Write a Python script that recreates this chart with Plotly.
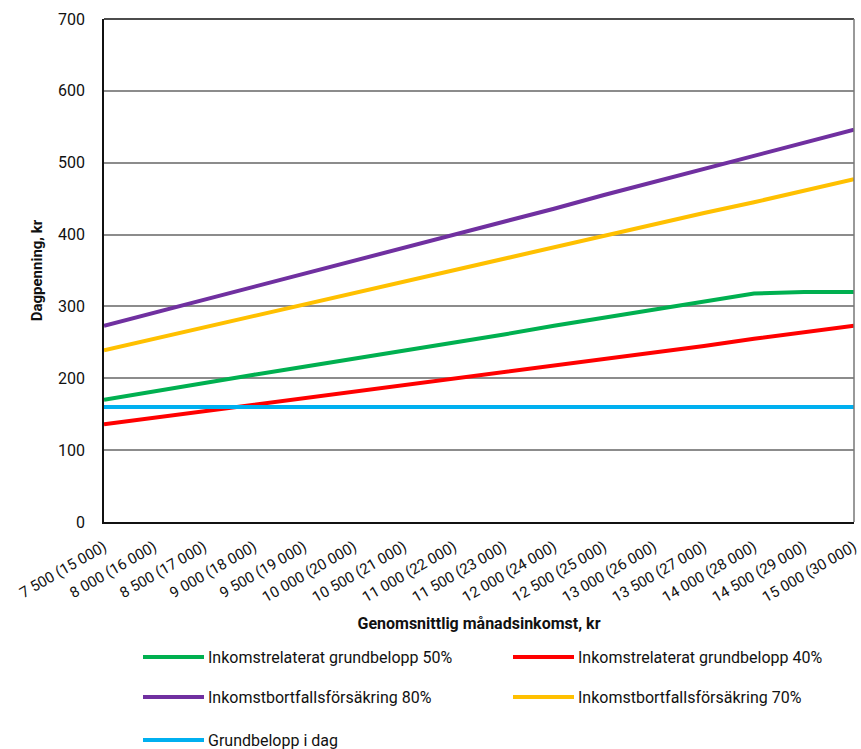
import plotly.graph_objects as go

# Monthly income categories (with corresponding figure in parentheses)
categories = [
    "7 500 (15 000)", "8 000 (16 000)", "8 500 (17 000)", "9 000 (18 000)",
    "9 500 (19 000)", "10 000 (20 000)", "10 500 (21 000)", "11 000 (22 000)",
    "11 500 (23 000)", "12 000 (24 000)", "12 500 (25 000)", "13 000 (26 000)",
    "13 500 (27 000)", "14 000 (28 000)", "14 500 (29 000)", "15 000 (30 000)",
]

grund_50 = [170, 182, 193, 205, 216, 227, 239, 250, 261, 273, 284, 295, 307, 318, 320, 320]
grund_40 = [136, 145, 155, 164, 173, 182, 191, 200, 209, 218, 227, 236, 245, 255, 264, 273]
bortfall_80 = [273, 291, 309, 327, 345, 364, 382, 400, 418, 436, 455, 473, 491, 509, 527, 546]
bortfall_70 = [239, 255, 270, 286, 302, 318, 334, 350, 366, 382, 398, 414, 430, 445, 461, 477]
grund_idag = [160] * 16

series_names = [
    "Inkomstrelaterat grundbelopp 50%",
    "Inkomstrelaterat grundbelopp 40%",
    "Inkomstbortfallsförsäkring 80%",
    "Inkomstbortfallsförsäkring 70%",
    "Grundbelopp i dag",
]
series_values = [grund_50, grund_40, bortfall_80, bortfall_70, grund_idag]
series_colors = ["#00B050", "#FF0000", "#7030A0", "#FFC000", "#00B0F0"]

y_ticks = [0, 100, 200, 300, 400, 500, 600, 700]

FONT = "Roboto, sans-serif"

W, H = 861, 749
ML, MR, MT, MB = 104, 7, 19, 227
PW, PH = W - ML - MR, H - MT - MB


def px_to_paper(xp, yp):
    """Convert figure pixel position to paper coordinates of the plot area."""
    return (xp - ML) / PW, (H - MB - yp) / PH


x_idx = list(range(len(categories)))

fig = go.Figure()
for name, vals, col in zip(series_names, series_values, series_colors):
    fig.add_trace(go.Scatter(
        x=x_idx, y=vals, name=name, mode="lines",
        line=dict(color=col, width=4), showlegend=False,
    ))

# Legend below the plot: two columns, three rows
legend_cells = [(143, 657), (513, 657), (143, 697), (513, 697), (143, 740)]
shapes = []
annotations = []
for (lx, ly), name, col in zip(legend_cells, series_names, series_colors):
    x0, yy = px_to_paper(lx, ly)
    x1, _ = px_to_paper(lx + 61, ly)
    xt, _ = px_to_paper(lx + 63, ly)
    shapes.append(dict(type="line", xref="paper", yref="paper",
                       x0=x0, x1=x1, y0=yy, y1=yy,
                       line=dict(color=col, width=4)))
    annotations.append(dict(xref="paper", yref="paper", x=xt, y=yy,
                            text=name, showarrow=False, xanchor="left", yanchor="middle",
                            font=dict(family=FONT, size=16, color="#111")))

# Top and right border of the plot area
shapes.append(dict(type="line", xref="x domain", yref="y domain",
                   x0=0, x1=1, y0=1, y1=1, line=dict(color="#111", width=1.5)))
shapes.append(dict(type="line", xref="x domain", yref="y domain",
                   x0=1, x1=1, y0=0, y1=1, line=dict(color="#777", width=1.5)))

fig.update_layout(
    width=W, height=H,
    margin=dict(l=ML, r=MR, t=MT, b=MB, autoexpand=False),
    paper_bgcolor="white", plot_bgcolor="white",
    font=dict(family=FONT, size=15, color="#111"),
    shapes=shapes, annotations=annotations,
    xaxis=dict(
        range=[0, len(categories) - 1],
        tickmode="array", tickvals=x_idx, ticktext=categories,
        tickangle=-30, tickfont=dict(family=FONT, size=15),
        ticklabeloverflow="allow", ticklabelstandoff=9,
        automargin=False,
        showgrid=False, zeroline=False,
        showline=True, linecolor="#111", linewidth=1.5,
        ticks="", title=dict(text="<b>Genomsnittlig månadsinkomst, kr</b>",
                             font=dict(family=FONT, size=16), standoff=13),
    ),
    yaxis=dict(
        range=[0, 700], tickmode="array", tickvals=y_ticks,
        tickfont=dict(family=FONT, size=16),
        ticklabelstandoff=14, automargin=False,
        showgrid=True, gridcolor="#8c8c8c", gridwidth=2,
        zeroline=False, showline=True, linecolor="#111", linewidth=1.5,
        ticks="",
        title=dict(text="<b>Dagpenning, kr</b>", font=dict(family=FONT, size=15), standoff=12),
    ),
)

fig.write_html("out.html")
